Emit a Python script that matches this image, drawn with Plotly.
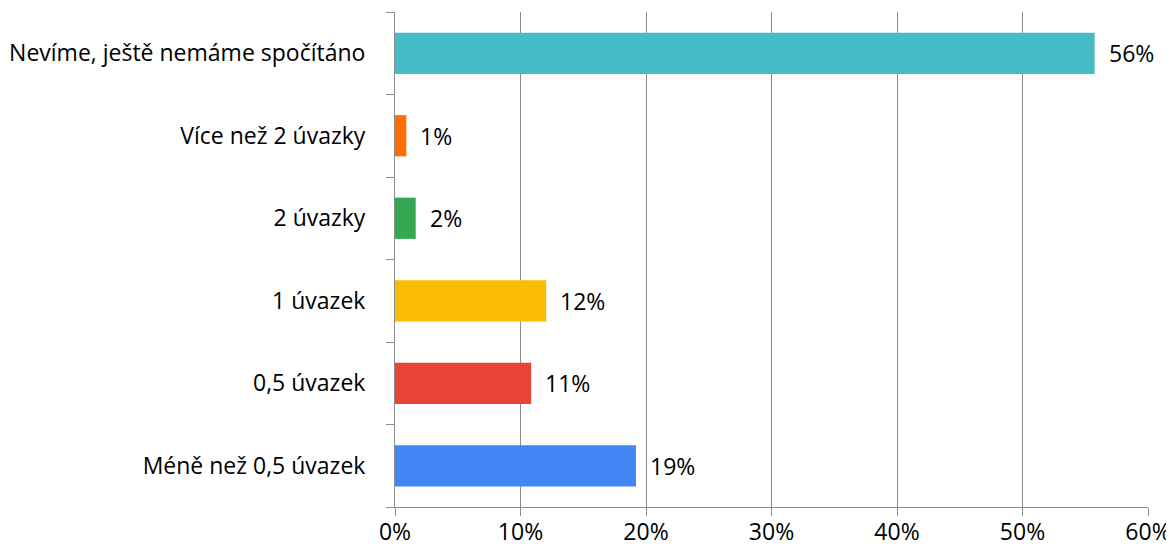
import plotly.graph_objects as go

# categories bottom -> top
categories = ["Méně než 0,5 úvazek", "0,5 úvazek", "1 úvazek", "2 úvazky",
              "Více než 2 úvazky", "Nevíme, ještě nemáme spočítáno"]
values = [19.2, 10.85, 12.05, 1.65, 0.9, 55.75]
labels = ["19%", "11%", "12%", "2%", "1%", "56%"]
colors = ["#4285F4", "#EA4335", "#FBBC04", "#34A853", "#FF6D01", "#46BDC6"]

x_ticks = [0, 10, 20, 30, 40, 50, 60]
x_tick_text = [f"{t}%" for t in x_ticks]

FONT = "'Open Sans', sans-serif"
FSIZE = 23

fig = go.Figure()
fig.add_trace(go.Bar(
    y=categories,
    x=values,
    orientation="h",
    marker=dict(color=colors, line=dict(width=0)),
    hoverinfo="skip",
))

# value labels right of each bar
for cat, val, lab in zip(categories, values, labels):
    fig.add_annotation(
        x=val, y=cat, text=lab, showarrow=False,
        xanchor="left", xshift=12,
        font=dict(family=FONT, size=FSIZE, color="#000000"),
    )

# page body has an 8px margin, so the figure is offset by 8px
fig.update_layout(
    width=1166, height=543,
    margin=dict(l=387, r=26, t=4, b=44, autoexpand=False),
    plot_bgcolor="white",
    paper_bgcolor="white",
    bargap=0.5,
    showlegend=False,
    font=dict(family=FONT, size=FSIZE, color="#000000"),
)

fig.update_xaxes(
    range=[0, 60],
    tickvals=x_ticks,
    ticktext=x_tick_text,
    showgrid=True, gridcolor="#8c8c8c", gridwidth=1,
    showline=True, linecolor="#8c8c8c", linewidth=1,
    ticks="outside", ticklen=8, tickcolor="#8c8c8c",
    ticklabelstandoff=-4,
    zeroline=False,
    automargin=False,
    fixedrange=True,
)
fig.update_yaxes(
    type="category",
    categoryorder="array", categoryarray=categories,
    showline=True, linecolor="#8c8c8c", linewidth=1,
    ticks="outside", ticklen=8, tickcolor="#8c8c8c",
    tickson="boundaries",
    ticklabelstandoff=24,
    showgrid=False,
    automargin=False,
    fixedrange=True,
)

fig.write_html("out.html")
